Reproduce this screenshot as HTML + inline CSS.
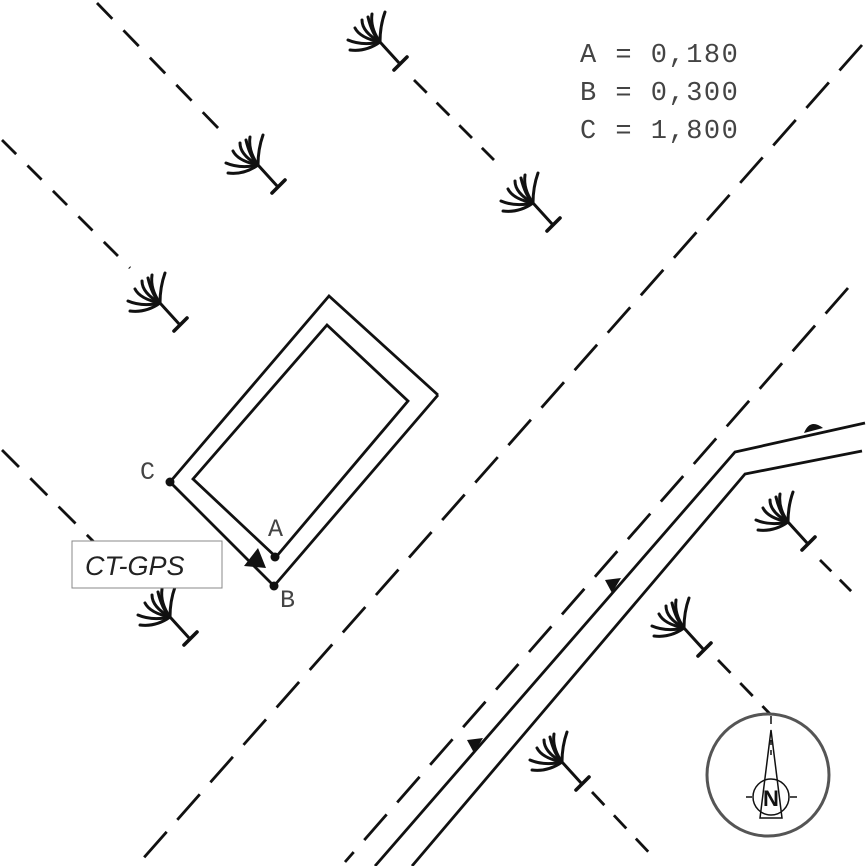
<!DOCTYPE html>
<html><head><meta charset="utf-8"><style>
html,body{margin:0;padding:0;background:#fff;}
svg{display:block}
</style></head><body>
<svg width="867" height="866" viewBox="0 0 867 866" xmlns="http://www.w3.org/2000/svg">
<defs>
<g id="tree" fill="none" stroke="#111" stroke-width="3" stroke-linecap="round">
<path d="M0,0 Q-14,10 -30,8"/>
<path d="M0,0 Q-18,4 -32,-2"/>
<path d="M0,0 Q-20,-4 -25,-14"/>
<path d="M0,0 Q-18,-10 -18,-22"/>
<path d="M0,0 Q-10,-14 -8,-28"/>
<path d="M0,0 Q0,-16 5,-30"/>
<path d="M0,0 Q-8,-8 -12,-25"/>
<path d="M0,0 L20,22"/>
<path d="M14,28 L27,15" stroke-width="3.6"/>
</g>
</defs>
<g stroke="#111" stroke-width="2.8" fill="none">
<line x1="862" y1="45" x2="140" y2="862" stroke-dasharray="34,16"/>
<line x1="848" y1="288" x2="345" y2="862" stroke-dasharray="34,16"/>
<polyline points="865,423 735,452 375,866"/>
<polyline points="862,451 745,474 412,866"/>
<line x1="97" y1="3" x2="220" y2="130" stroke-dasharray="22,16"/>
<line x1="2" y1="140" x2="130" y2="268" stroke-dasharray="20,16"/>
<line x1="414" y1="80" x2="494" y2="160" stroke-dasharray="18,14"/>
<line x1="2" y1="450" x2="140" y2="588" stroke-dasharray="24,16"/>
<line x1="820" y1="560" x2="856" y2="596" stroke-dasharray="16,12"/>
<line x1="718" y1="660" x2="772" y2="716" stroke-dasharray="18,14"/>
<line x1="592" y1="792" x2="656" y2="860" stroke-dasharray="18,14"/>
<polyline points="438,395 329,296 170,482 274,586 438,395"/>
<polygon points="327,325 408,401 276,557 193,479"/>
</g>
<circle cx="170" cy="482" r="4.5" fill="#111"/>
<circle cx="275" cy="557" r="4.5" fill="#111"/>
<circle cx="274" cy="586" r="4.5" fill="#111"/>
<polygon points="244,566 258,548 266,568" fill="#111"/>
<path d="M804,433 Q810,418 823,428 Z" fill="#111"/>
<path d="M605,580 L621,578 L612,593 Z" fill="#111"/>
<path d="M467,740 L483,738 L474,753 Z" fill="#111"/>
<use href="#tree" x="380" y="42"/>
<use href="#tree" x="258" y="165"/>
<use href="#tree" x="160" y="303"/>
<use href="#tree" x="533" y="203"/>
<use href="#tree" x="170" y="617"/>
<use href="#tree" x="788" y="522"/>
<use href="#tree" x="684" y="628"/>
<use href="#tree" x="562" y="762"/>
<g font-family="Liberation Mono, monospace" font-size="27" fill="#444" letter-spacing="1.5">
<text x="580" y="62" xml:space="preserve">A = 0,180</text>
<text x="580" y="100" xml:space="preserve">B = 0,300</text>
<text x="580" y="138" xml:space="preserve">C = 1,800</text>
</g>
<g font-family="Liberation Mono, monospace" font-size="25" fill="#444">
<text x="140" y="479">C</text>
<text x="268" y="536">A</text>
<text x="280" y="607">B</text>
</g>
<rect x="72" y="541" width="150" height="47" fill="#fff" stroke="#888" stroke-width="1"/>
<text x="85" y="575" font-family="Liberation Sans, sans-serif" font-style="italic" font-size="27" fill="#222">CT-GPS</text>
<circle cx="768" cy="775" r="61" fill="#fff" stroke="#555" stroke-width="3"/>
<g stroke="#111" stroke-width="1.5" fill="none">
<polygon points="771,730 760,818 782,818"/>
<line x1="771" y1="716" x2="771" y2="724"/>
<line x1="771" y1="740" x2="771" y2="760" stroke-dasharray="5,5"/>
<circle cx="771" cy="797" r="18"/>
<line x1="746" y1="797" x2="752" y2="797"/>
<line x1="790" y1="797" x2="797" y2="797"/>
</g>
<text x="771" y="806" text-anchor="middle" font-family="Liberation Sans, sans-serif" font-weight="bold" font-size="22" fill="#111">N</text>
</svg>
</body></html>
